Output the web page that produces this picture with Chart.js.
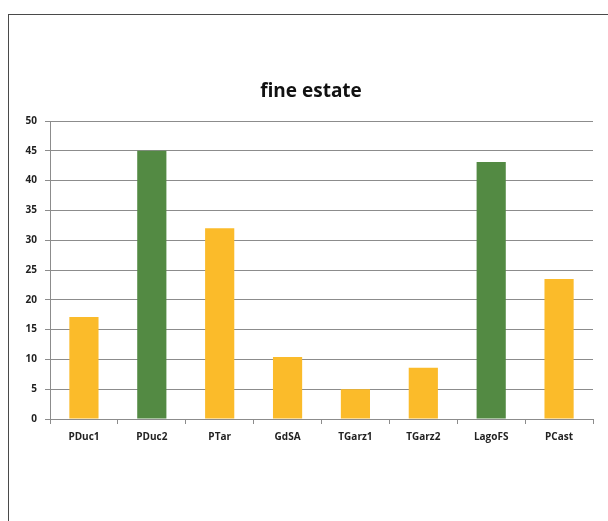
<!DOCTYPE html>
<html lang="it">
<head>
    <meta charset="UTF-8">
    <title>fine estate</title>
    <script src="https://cdn.jsdelivr.net/npm/chart.js"></script>
    <style>
        html, body { margin: 0; padding: 0; background: #ffffff; }
        #wrap { position: relative; width: 608px; height: 521px; overflow: hidden; }
        #frame {
            position: absolute; left: 8px; top: 14px; width: 640px; height: 560px;
            border: 1px solid #4a4a4a; box-sizing: border-box;
        }
        canvas { position: absolute; left: 0; top: 0; }
    </style>
</head>
<body>
    <div id="wrap">
        <div id="frame"></div>
        <canvas id="chart" width="608" height="521"></canvas>
    </div>

    <script>
        // data
        const chartTitle = 'fine estate';
        const categories = ['PDuc1', 'PDuc2', 'PTar', 'GdSA', 'TGarz1', 'TGarz2', 'LagoFS', 'PCast'];
        const values = [17.1, 45.0, 32.0, 10.4, 5.0, 8.6, 43.1, 23.5];
        const highlighted = [false, true, false, false, false, false, true, false];
        const yTicks = [0, 5, 10, 15, 20, 25, 30, 35, 40, 45, 50];

        const yellow = '#fbbb2a';
        const green = '#538a43';
        const gridColor = '#8c8c8c';
        const tickFont = { family: 'Open Sans', size: 10, weight: 'bold' };

        // title sits a bit left of the plot centre in the reference, so draw it here
        const titlePlugin = {
            id: 'offsetTitle',
            afterDraw(chart) {
                const ctx = chart.ctx;
                ctx.save();
                ctx.font = 'bold 19px "Open Sans"';
                ctx.fillStyle = '#111111';
                ctx.textAlign = 'center';
                ctx.textBaseline = 'middle';
                ctx.fillText(chartTitle, 311, 92);
                ctx.restore();
            }
        };

        new Chart(document.getElementById('chart'), {
            type: 'bar',
            data: {
                labels: categories,
                datasets: [{
                    data: values,
                    backgroundColor: highlighted.map(h => h ? green : yellow),
                    barPercentage: 0.86,
                    categoryPercentage: 0.5
                }]
            },
            options: {
                responsive: false,
                animation: false,
                devicePixelRatio: 1,
                layout: { padding: { left: 0, right: 15, top: 121, bottom: 0 } },
                plugins: {
                    legend: { display: false },
                    tooltip: { enabled: false },
                    title: { display: false }
                },
                scales: {
                    x: {
                        grid: {
                            drawOnChartArea: false,
                            color: gridColor,
                            tickLength: 5
                        },
                        border: { color: gridColor },
                        ticks: { color: '#222222', font: tickFont, padding: 7, maxRotation: 0 },
                        afterFit: (scale) => { scale.height = 102; }
                    },
                    y: {
                        min: 0,
                        max: 50,
                        afterBuildTicks: (scale) => { scale.ticks = yTicks.map(v => ({ value: v })); },
                        grid: { color: gridColor, tickLength: 5 },
                        border: { color: gridColor },
                        ticks: { color: '#222222', font: tickFont, padding: 8 },
                        afterFit: (scale) => { scale.width = 50; }
                    }
                }
            },
            plugins: [titlePlugin]
        });
    </script>
</body>
</html>
